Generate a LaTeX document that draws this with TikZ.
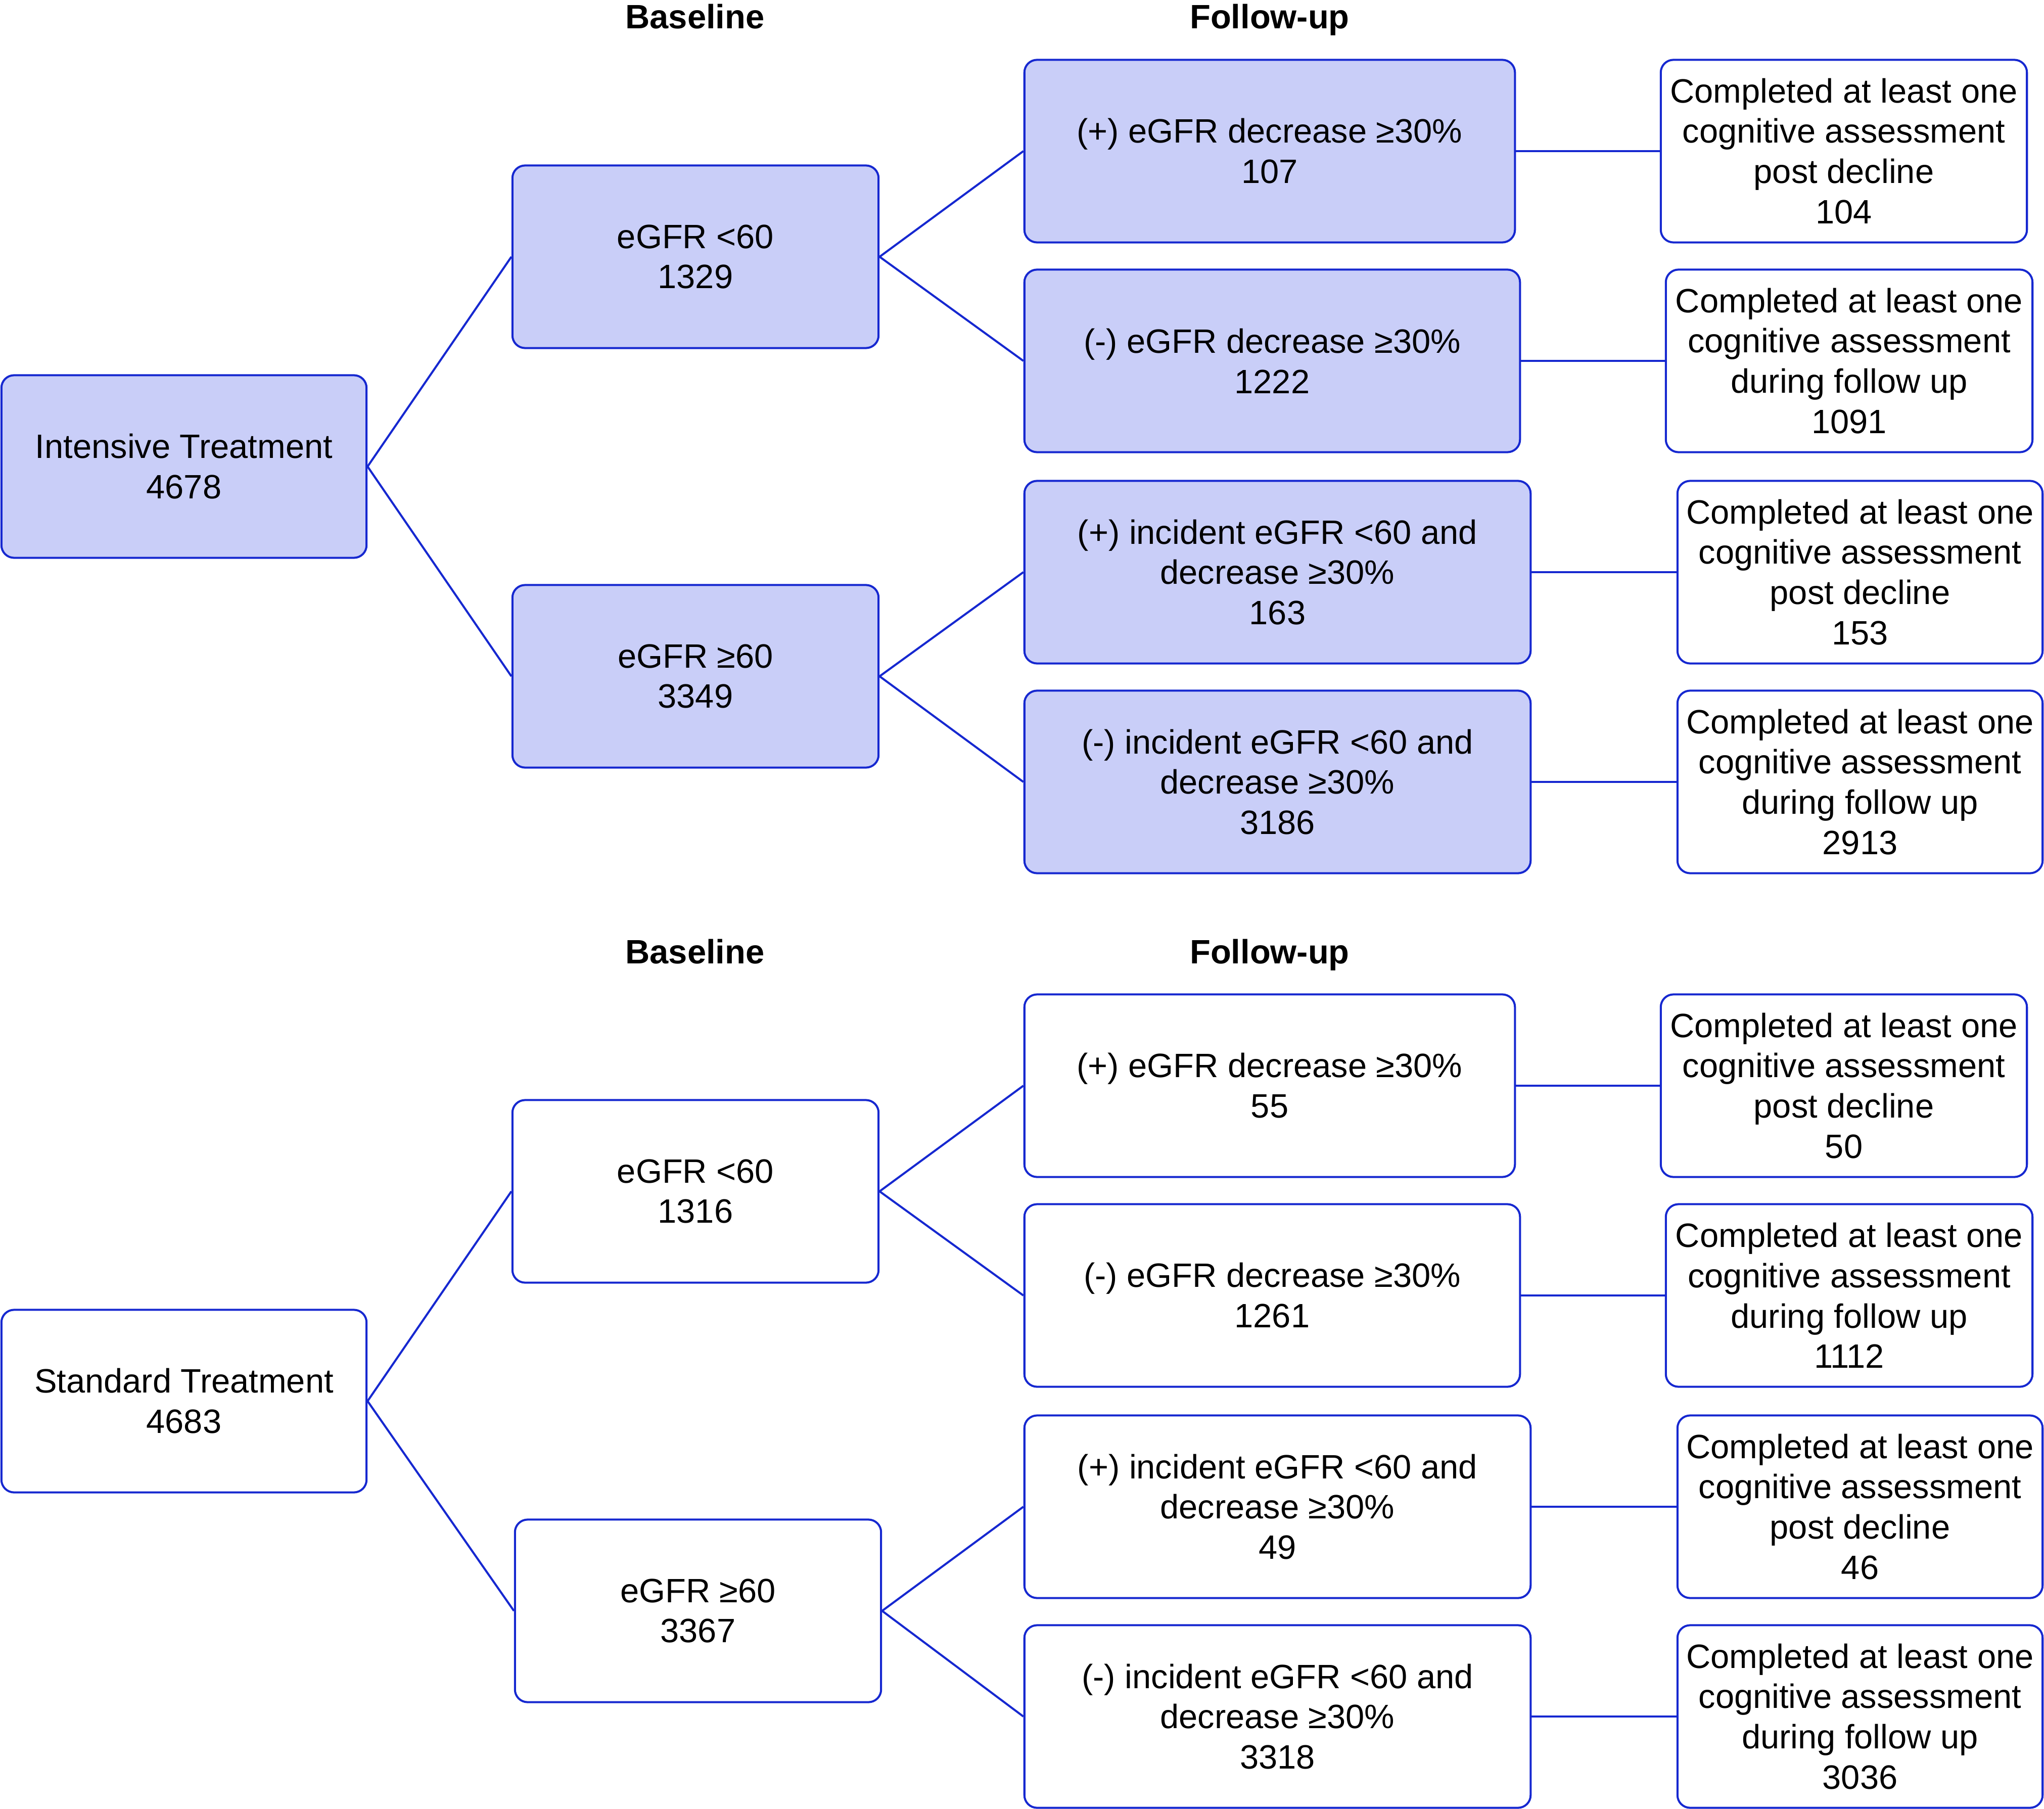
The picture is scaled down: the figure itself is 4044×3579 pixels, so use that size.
\documentclass[tikz,border=0pt]{standalone}
\usepackage{fontspec}
\setmainfont{Liberation Sans}
\definecolor{bblue}{RGB}{22,40,208}
\definecolor{bfill}{RGB}{201,206,248}
\newcommand{\mainsz}{\fontsize{19}{22.7}\selectfont}
\tikzset{
  box/.style={draw=bblue, line width=1.15pt, rounded corners=0.25cm, align=center, inner sep=0pt, font=\mainsz, minimum height=3.61cm},
  filled/.style={box, fill=bfill},
  link/.style={draw=bblue, line width=1.15pt},
  hdr/.style={font=\mainsz\bfseries, anchor=base, inner sep=0pt}
}
\begin{document}
\begin{tikzpicture}[x=0.01cm, y=-0.01cm]
\useasboundingbox (0,0) rectangle (4044,3579);
% ---------- Top: intensive ----------
\node[hdr] (hb1) at (1375,57) {Baseline};
\node[hdr] (hf1) at (2512,57) {Follow-up};
\node[filled, minimum width=7.22cm] (I) at (364,923) {Intensive Treatment\\4678};
\node[filled, minimum width=7.24cm] (IL1) at (1376,508) {eGFR <60\\1329};
\node[filled, minimum width=7.24cm] (IL2) at (1376,1338) {eGFR ≥60\\3349};
\node[filled, minimum width=9.70cm] (IF1) at (2512,299) {(+) eGFR decrease ≥30\%\\107};
\node[filled, minimum width=9.80cm] (IF2) at (2517,714) {(-) eGFR decrease ≥30\%\\1222};
\node[filled, minimum width=10.01cm] (IF3) at (2527.5,1132) {(+) incident eGFR <60 and\\decrease ≥30\%\\163};
\node[filled, minimum width=10.01cm] (IF4) at (2527.5,1547) {(-) incident eGFR <60 and\\decrease ≥30\%\\3186};
\node[box, minimum width=7.24cm] (IR1) at (3648,299) {Completed at least one\\cognitive assessment\\post decline\\104};
\node[box, minimum width=7.25cm] (IR2) at (3658.5,714) {Completed at least one\\cognitive assessment\\during follow up\\1091};
\node[box, minimum width=7.22cm] (IR3) at (3680,1132) {Completed at least one\\cognitive assessment\\post decline\\153};
\node[box, minimum width=7.22cm] (IR4) at (3680,1547) {Completed at least one\\cognitive assessment\\during follow up\\2913};
\draw[link] (I.east) -- (IL1.west);
\draw[link] (I.east) -- (IL2.west);
\draw[link] (IL1.east) -- (IF1.west);
\draw[link] (IL1.east) -- (IF2.west);
\draw[link] (IL2.east) -- (IF3.west);
\draw[link] (IL2.east) -- (IF4.west);
\draw[link] (IF1.east) -- (IR1.west);
\draw[link] (IF2.east) -- (IR2.west);
\draw[link] (IF3.east) -- (IR3.west);
\draw[link] (IF4.east) -- (IR4.west);
% ---------- Bottom: standard ----------
\node[hdr] (hb2) at (1375,1906) {Baseline};
\node[hdr] (hf2) at (2512,1906) {Follow-up};
\node[box, minimum width=7.22cm] (S) at (364,2772) {Standard Treatment\\4683};
\node[box, minimum width=7.24cm] (SL1) at (1376,2357) {eGFR <60\\1316};
\node[box, minimum width=7.24cm] (SL2) at (1381,3187) {eGFR ≥60\\3367};
\node[box, minimum width=9.70cm] (SF1) at (2512,2148) {(+) eGFR decrease ≥30\%\\55};
\node[box, minimum width=9.80cm] (SF2) at (2517,2563) {(-) eGFR decrease ≥30\%\\1261};
\node[box, minimum width=10.01cm] (SF3) at (2527.5,2981) {(+) incident eGFR <60 and\\decrease ≥30\%\\49};
\node[box, minimum width=10.01cm] (SF4) at (2527.5,3396) {(-) incident eGFR <60 and\\decrease ≥30\%\\3318};
\node[box, minimum width=7.24cm] (SR1) at (3648,2148) {Completed at least one\\cognitive assessment\\post decline\\50};
\node[box, minimum width=7.25cm] (SR2) at (3658.5,2563) {Completed at least one\\cognitive assessment\\during follow up\\1112};
\node[box, minimum width=7.22cm] (SR3) at (3680,2981) {Completed at least one\\cognitive assessment\\post decline\\46};
\node[box, minimum width=7.22cm] (SR4) at (3680,3396) {Completed at least one\\cognitive assessment\\during follow up\\3036};
\draw[link] (S.east) -- (SL1.west);
\draw[link] (S.east) -- (SL2.west);
\draw[link] (SL1.east) -- (SF1.west);
\draw[link] (SL1.east) -- (SF2.west);
\draw[link] (SL2.east) -- (SF3.west);
\draw[link] (SL2.east) -- (SF4.west);
\draw[link] (SF1.east) -- (SR1.west);
\draw[link] (SF2.east) -- (SR2.west);
\draw[link] (SF3.east) -- (SR3.west);
\draw[link] (SF4.east) -- (SR4.west);
\end{tikzpicture}
\end{document}
